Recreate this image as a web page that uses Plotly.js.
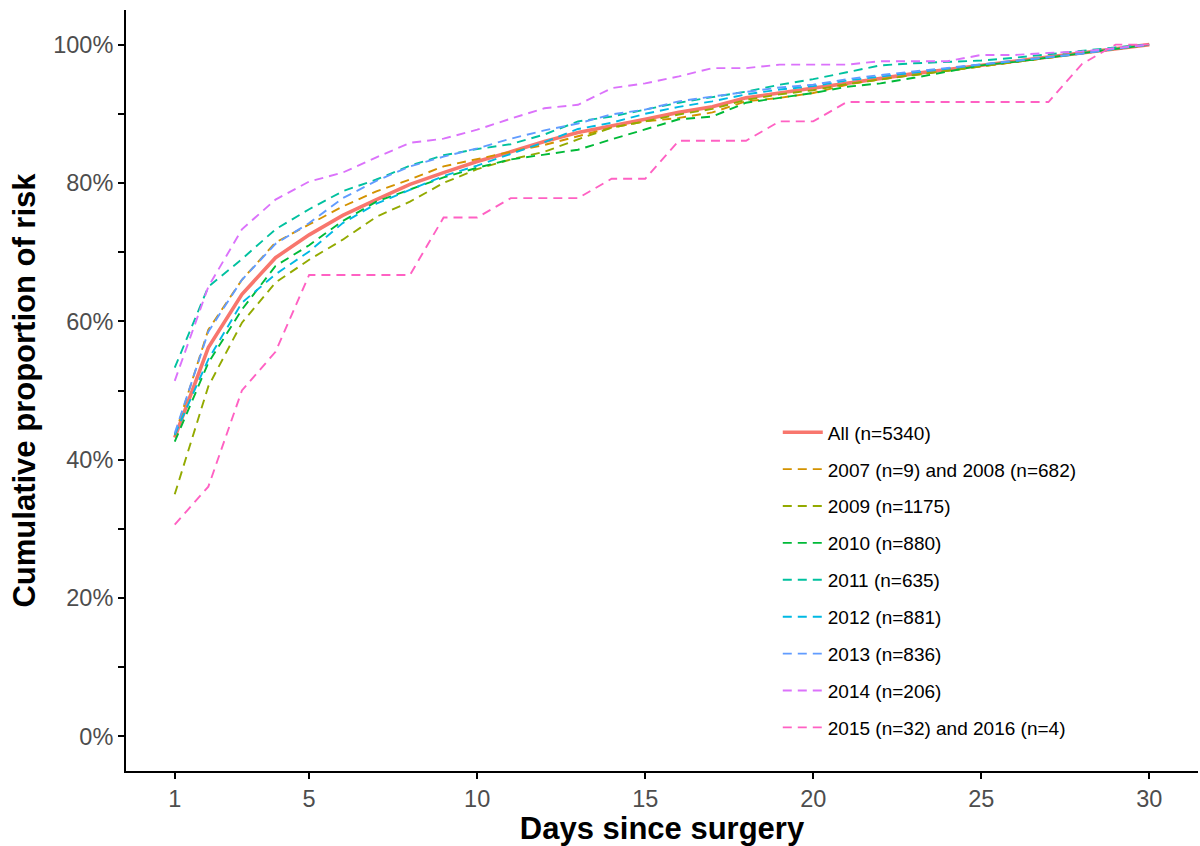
<!DOCTYPE html>
<html>
<head>
<meta charset="utf-8">
<script src="https://cdn.plot.ly/plotly-3.0.1.min.js"></script>
<style>
  html, body { margin: 0; padding: 0; background: #ffffff; }
  #chart { width: 1200px; height: 846px; }
</style>
</head>
<body>
<div id="chart"></div>
<script>
const days = [1,2,3,4,5,6,7,8,9,10,11,12,13,14,15,16,17,18,19,20,21,22,23,24,25,26,27,28,29,30];

const seriesNames = [
  "All (n=5340)",
  "2007 (n=9) and 2008 (n=682)",
  "2009 (n=1175)",
  "2010 (n=880)",
  "2011 (n=635)",
  "2012 (n=881)",
  "2013 (n=836)",
  "2014 (n=206)",
  "2015 (n=32) and 2016 (n=4)"
];

const allYears = [43.2,56.2,63.9,69.2,72.5,75.3,77.6,79.8,81.5,83.1,84.5,86.0,87.3,88.2,89.2,90.2,91.0,92.3,93.0,93.8,94.5,95.2,95.8,96.4,97.0,97.6,98.2,98.8,99.4,100];
const y2007_2008 = [43.5,58.8,66.0,71.4,74.0,76.6,78.8,80.5,82.4,83.5,84.5,85.5,86.8,88.0,88.9,89.4,90.2,91.8,92.3,93.0,94.2,95.0,95.6,96.2,96.9,97.5,98.1,98.8,99.4,100];
const y2009 = [35.0,50.6,59.8,65.6,68.9,71.8,75.1,77.3,80.0,82.0,83.4,84.5,86.3,88.0,88.9,89.9,90.7,92.0,92.8,93.4,94.3,95.0,95.6,96.2,96.9,97.5,98.1,98.7,99.4,100];
const y2010 = [42.6,54.0,61.7,68.0,71.0,74.5,77.3,79.0,80.8,82.2,83.4,84.1,84.8,86.3,87.7,89.2,89.6,91.6,92.3,93.0,93.9,94.4,95.2,96.1,97.0,97.5,98.1,98.7,99.4,100];
const y2011 = [53.3,65.0,69.0,73.3,76.2,78.8,80.5,82.5,84.0,84.9,85.6,87.0,88.9,89.6,90.6,91.6,92.4,93.2,94.2,95.0,96.0,97.0,97.3,97.5,97.7,98.1,98.6,99.2,99.6,100];
const y2012 = [43.6,54.5,62.7,66.8,70.1,74.2,77.0,79.0,81.0,82.5,84.2,85.9,87.8,88.7,90.0,91.0,91.8,92.8,93.5,94.0,94.8,95.4,96.0,96.6,97.1,97.6,98.1,98.7,99.4,100];
const y2013 = [43.8,58.5,66.0,71.2,74.2,77.8,80.3,82.4,83.8,85.0,86.4,87.6,88.6,89.9,90.6,91.8,92.5,93.2,93.8,94.2,95.0,95.6,96.1,96.6,97.1,97.6,98.1,98.7,99.4,100];
const y2014 = [51.4,65.0,73.3,77.6,80.2,81.5,83.7,85.8,86.4,87.7,89.3,90.8,91.3,93.7,94.4,95.4,96.6,96.6,97.1,97.1,97.1,97.6,97.6,97.6,98.5,98.5,98.8,99.0,99.5,100];
const y2015_2016 = [30.6,36.1,50.0,55.6,66.7,66.7,66.7,66.7,75.0,75.0,77.8,77.8,77.8,80.6,80.6,86.1,86.1,86.1,88.9,88.9,91.7,91.7,91.7,91.7,91.7,91.7,91.7,97.2,100,100];

const seriesValues = [allYears, y2007_2008, y2009, y2010, y2011, y2012, y2013, y2014, y2015_2016];
const seriesColors = ["#F8766D","#D39200","#93AA00","#00BA38","#00C19F","#00B9E3","#619CFF","#DB72FB","#FF61C3"];

const xTicks = [1,5,10,15,20,25,30];

const traces = seriesValues.map((vals, i) => ({
  type: "scatter",
  mode: "lines",
  x: days,
  y: vals.map(v => v / 100),
  name: seriesNames[i],
  legendgroup: "g" + i,
  line: {
    color: seriesColors[i],
    width: i === 0 ? 3.6 : 1.9,
    dash: i === 0 ? "solid" : "9px,6px"
  },
  hoverinfo: "x+y+name"
}));

const layout = {
  width: 1200,
  height: 846,
  paper_bgcolor: "#ffffff",
  plot_bgcolor: "#ffffff",
  margin: { l: 126, r: 2, t: 10, b: 75 },
  font: { family: "Liberation Sans, Arial, sans-serif", color: "#000000" },
  showlegend: true,
  legend: {
    x: 0.608,
    y: 0.47,
    xanchor: "left",
    yanchor: "top",
    bgcolor: "rgba(255,255,255,0)",
    itemwidth: 40,
    font: { size: 19, color: "#000000", family: "Liberation Sans, Arial, sans-serif" },
    tracegroupgap: 9.2
  },
  xaxis: {
    range: [-0.45, 31.45],
    tickmode: "array",
    tickvals: xTicks,
    ticktext: xTicks.map(String),
    showgrid: false,
    zeroline: false,
    showline: true,
    linecolor: "#000000",
    linewidth: 2,
    ticks: "outside",
    ticklen: 6,
    tickwidth: 1.5,
    tickcolor: "#000000",
    tickfont: { size: 23.5, color: "#4D4D4D" },
    title: {
      text: "<b>Days since surgery</b>",
      font: { size: 31, color: "#000000" },
      standoff: 5
    }
  },
  yaxis: {
    range: [-0.05, 1.05],
    dtick: 0.2,
    tick0: 0,
    tickformat: ".0%",
    showgrid: false,
    zeroline: false,
    showline: true,
    linecolor: "#000000",
    linewidth: 2,
    ticks: "outside",
    ticklen: 6,
    tickwidth: 1.5,
    tickcolor: "#000000",
    tickfont: { size: 23.5, color: "#4D4D4D" },
    minor: {
      dtick: 0.1,
      tick0: 0,
      ticks: "outside",
      ticklen: 6,
      tickwidth: 1.5,
      tickcolor: "#000000",
      showgrid: false
    },
    title: {
      text: "<b>Cumulative proportion of risk</b>",
      font: { size: 31, color: "#000000" },
      standoff: 8
    }
  }
};

Plotly.newPlot("chart", traces, layout, { displayModeBar: false, responsive: false });
</script>
</body>
</html>
